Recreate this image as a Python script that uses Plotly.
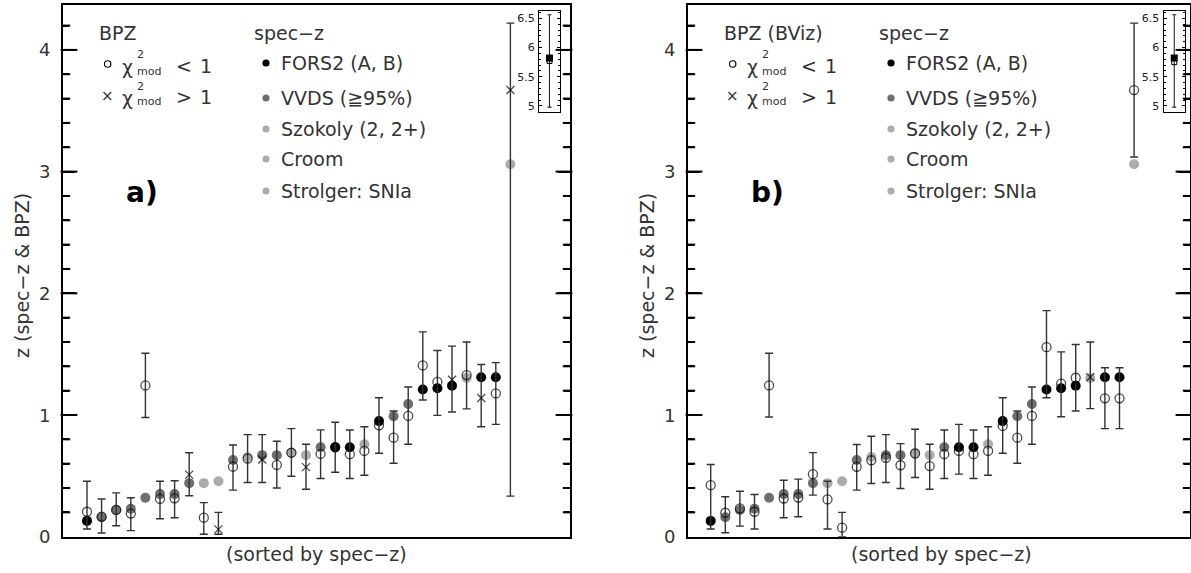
import plotly.graph_objects as go

W, H = 1191, 573

# ---------------- data ----------------
idx = list(range(30))
specz = [0.13, 0.16, 0.22, 0.23, 0.32, 0.35, 0.35, 0.44, 0.44, 0.455,
         0.63, 0.655, 0.67, 0.67, 0.69, 0.67, 0.735, 0.735, 0.735, 0.76,
         0.95, 0.99, 1.09, 1.21, 1.22, 1.24, 1.305, 1.31, 1.31, 3.06]
source = ["FORS2", "VVDS", "VVDS", "VVDS", "VVDS", "VVDS", "VVDS", "VVDS", "Szokoly", "Croom",
          "VVDS", "Szokoly", "VVDS", "VVDS", "Szokoly", "Strolger", "VVDS", "FORS2", "FORS2", "Szokoly",
          "FORS2", "VVDS", "VVDS", "FORS2", "FORS2", "FORS2", "Szokoly", "FORS2", "FORS2", "Szokoly"]

# panel a) BPZ
bpz_a = [0.205, 0.165, 0.22, 0.19, 1.243, 0.31, 0.315, 0.51, 0.156, 0.06,
         0.575, 0.642, 0.634, 0.59, 0.69, 0.572, 0.68, 0.735, 0.678, 0.705,
         0.915, 0.814, 0.992, 1.407, 1.273, 1.29, 1.328, 1.14, 1.177, 3.67]
lo_a = [0.063, 0.03, 0.09, 0.05, 0.98, 0.148, 0.156, 0.336, 0.02, 0.02,
        0.383, 0.445, 0.445, 0.40, 0.497, 0.39, 0.478, 0.53, 0.478, 0.505,
        0.686, 0.604, 0.76, 1.123, 0.997, 1.025, 1.05, 0.904, 0.923, 0.333]
hi_a = [0.456, 0.31, 0.36, 0.32, 1.508, 0.456, 0.46, 0.69, 0.28, 0.2,
        0.754, 0.839, 0.839, 0.784, 0.888, 0.76, 0.878, 0.94, 0.877, 0.904,
        1.142, 1.033, 1.23, 1.683, 1.53, 1.566, 1.60, 1.415, 1.43, 4.22]
chi_gt1_a = [0, 0, 0, 0, 0, 0, 0, 1, 0, 1,
             0, 0, 1, 0, 0, 1, 0, 0, 0, 0,
             0, 0, 0, 0, 0, 1, 0, 1, 0, 1]

# panel b) BPZ (BViz)
bpz_b = [0.423, 0.197, 0.232, 0.205, 1.243, 0.314, 0.322, 0.514, 0.306, 0.074,
         0.574, 0.628, 0.648, 0.587, 0.683, 0.58, 0.678, 0.705, 0.678, 0.705,
         0.91, 0.814, 0.992, 1.557, 1.257, 1.306, 1.311, 1.137, 1.137, 3.67]
lo_b = [0.063, 0.033, 0.087, 0.063, 0.984, 0.156, 0.164, 0.342, 0.063, 0.0,
        0.383, 0.437, 0.445, 0.396, 0.486, 0.39, 0.478, 0.514, 0.478, 0.505,
        0.686, 0.604, 0.76, 1.142, 0.986, 1.033, 1.052, 0.888, 0.888, 3.12]
hi_b = [0.593, 0.328, 0.374, 0.347, 1.508, 0.464, 0.473, 0.691, 0.456, 0.2,
        0.757, 0.825, 0.839, 0.765, 0.883, 0.76, 0.877, 0.923, 0.877, 0.904,
        1.142, 1.033, 1.23, 1.858, 1.519, 1.579, 1.60, 1.388, 1.388, 4.22]
chi_gt1_b = [0, 0, 0, 0, 0, 0, 0, 0, 0, 0,
             0, 0, 0, 0, 0, 0, 0, 0, 0, 0,
             0, 0, 0, 0, 0, 0, 1, 0, 0, 0]

# high-z object shown in the insets
inset_specz = [5.82]
inset_bpz_a = [5.77]
inset_lo_a = [4.98]
inset_hi_a = [6.56]
inset_bpz_b = [5.75]
inset_lo_b = [4.98]
inset_hi_b = [6.56]

y_ticks = [0, 1, 2, 3, 4]
y_ticktext = ["0", "1", "2", "3", "4"]
y_minor = [0.2, 0.4, 0.6, 0.8, 1.2, 1.4, 1.6, 1.8, 2.2, 2.4, 2.6, 2.8,
           3.2, 3.4, 3.6, 3.8, 4.2]
inset_ticks = [5, 5.5, 6, 6.5]
inset_ticktext = ["5", "5.5", "6", "6.5"]

colors = {"FORS2": "#000000", "VVDS": "#6e6e6e", "Szokoly": "#acacac",
          "Croom": "#acacac", "Strolger": "#acacac"}

FONT = "DejaVu Sans"
TXT = "#333333"

fig = go.Figure()

col_dx = 14.6            # pixels per column
ydom = [1 - 536.7 / H, 1 - 5 / H]
range_a = [-(87 - 63) / col_dx, (570 - 87) / col_dx]
range_b = [-(710.7 - 688) / col_dx, (1190 - 710.7) / col_dx]


def px(x):
    return x / W


def py(y):
    return 1 - y / H


def add_ticks(xa, ya, xr):
    """Inside tick marks on both vertical frame sides, drawn as horizontal-line markers."""
    for vals, length in [(y_ticks[1:], 12), (y_minor, 6)]:
        h = (length / 2) / col_dx
        xs = [xr[0] + h] * len(vals) + [xr[1] - h] * len(vals)
        ys = list(vals) + list(vals)
        fig.add_trace(go.Scatter(
            x=xs, y=ys, mode="markers", xaxis=xa, yaxis=ya,
            marker=dict(symbol="line-ew-open", size=length, color="black",
                        line=dict(color="black", width=2)),
            hoverinfo="skip", cliponaxis=False))


def add_panel(xa, ya, bpz, lo, hi, flags, xr):
    add_ticks(xa, ya, xr)
    fig.add_trace(go.Scatter(
        x=idx, y=specz, mode="markers", xaxis=xa, yaxis=ya,
        marker=dict(size=10, color=[colors[s] for s in source], line=dict(width=0)),
        hoverinfo="skip"))
    fig.add_trace(go.Scatter(
        x=idx, y=bpz, mode="markers", xaxis=xa, yaxis=ya,
        marker=dict(symbol=["x-thin-open" if f else "circle-open" for f in flags],
                    size=[8 if f else 9 for f in flags], color="black",
                    line=dict(color="black", width=1.3)),
        error_y=dict(type="data", symmetric=False,
                     array=[h - b for h, b in zip(hi, bpz)],
                     arrayminus=[b - l for b, l in zip(bpz, lo)],
                     color="#333333", thickness=1.4, width=4),
        hoverinfo="skip"))


def add_inset(xa, ya, bpz, lo, hi):
    fig.add_trace(go.Scatter(
        x=[0], y=bpz, mode="markers", xaxis=xa, yaxis=ya,
        marker=dict(symbol="square-open", size=5, color="black", line=dict(width=1)),
        error_y=dict(type="data", symmetric=False,
                     array=[h - b for h, b in zip(hi, bpz)],
                     arrayminus=[b - l for b, l in zip(bpz, lo)],
                     color="#222222", thickness=1.1, width=2),
        hoverinfo="skip"))
    fig.add_trace(go.Scatter(
        x=[0], y=inset_specz, mode="markers", xaxis=xa, yaxis=ya,
        marker=dict(symbol="square", size=7, color="black"),
        hoverinfo="skip"))


add_panel("x", "y", bpz_a, lo_a, hi_a, chi_gt1_a, range_a)
add_panel("x2", "y2", bpz_b, lo_b, hi_b, chi_gt1_b, range_b)
add_inset("x3", "y3", inset_bpz_a, inset_lo_a, inset_hi_a)
add_inset("x4", "y4", inset_bpz_b, inset_lo_b, inset_hi_b)

main_x = dict(showticklabels=False, ticks="", showline=True, linecolor="black",
              linewidth=1.5, mirror=True, showgrid=False, zeroline=False)
main_y = dict(range=[0, (536.7 - 5) / 121.7], tickvals=y_ticks, ticks="inside",
              ticklen=12, tickwidth=1.5, tickcolor="black",
              minor=dict(ticks="inside", dtick=0.2, tick0=0, ticklen=6,
                         tickwidth=1.5, tickcolor="black"),
              showticklabels=False, showline=True, linecolor="black",
              linewidth=1.5, mirror="ticks", showgrid=False, zeroline=False)
inset_x = dict(range=[-1, 1], showticklabels=False, ticks="", showline=True,
               linecolor="black", linewidth=1.2, mirror=True, showgrid=False, zeroline=False)
inset_y = dict(range=[4.897, 6.625], tickvals=inset_ticks, ticktext=inset_ticktext,
               ticks="inside", ticklen=3, tickwidth=1, tickcolor="black",
               minor=dict(ticks="inside", dtick=0.1, tick0=5,
                          ticklen=2, tickwidth=1, tickcolor="black"),
               showline=True, linecolor="black", linewidth=1.2, mirror="ticks",
               showgrid=False, zeroline=False, ticklabelstandoff=1,
               tickfont=dict(family=FONT, size=11, color="#222222"))

fig.update_layout(
    width=W, height=H, autosize=False,
    margin=dict(l=0, r=0, t=0, b=0),
    paper_bgcolor="white", plot_bgcolor="rgba(0,0,0,0)",
    showlegend=False,
    xaxis=dict(domain=[px(63), px(570)], range=range_a, **main_x),
    yaxis=dict(domain=ydom, anchor="x", **main_y),
    xaxis2=dict(domain=[px(688), px(1190)], anchor="y2", range=range_b, **main_x),
    yaxis2=dict(domain=ydom, anchor="x2", **main_y),
    xaxis3=dict(domain=[px(539), px(560)], anchor="y3", **inset_x),
    yaxis3=dict(domain=[py(112), py(11)], anchor="x3", **inset_y),
    xaxis4=dict(domain=[px(1163.5), px(1185)], anchor="y4", **inset_x),
    yaxis4=dict(domain=[py(112), py(11)], anchor="x4", **inset_y),
)

shapes = []
annotations = []


def text(x, y, s, size=19, anchor="left", bold=False, angle=0):
    annotations.append(dict(
        x=px(x), y=py(y), xref="paper", yref="paper", text=s, showarrow=False,
        xanchor=anchor, yanchor="middle", textangle=angle,
        font=dict(family=FONT, size=size, color="black" if bold else TXT,
                  weight="bold" if bold else "normal")))


def dot(cx, cy, r, fill, line=None):
    shapes.append(dict(type="circle", xref="paper", yref="paper",
                       x0=px(cx - r), x1=px(cx + r), y0=py(cy + r), y1=py(cy - r),
                       fillcolor=fill if fill else "rgba(0,0,0,0)",
                       line=dict(color=line if line else "rgba(0,0,0,0)", width=1.1)))


legend_src = [("FORS2 (A, B)", "FORS2"), ("VVDS (≧95%)", "VVDS"),
              ("Szokoly (2, 2+)", "Szokoly"), ("Croom", "Croom"),
              ("Strolger: SNIa", "Strolger")]
row_y = [63, 98, 129, 159, 191]

panels = [(0, 63, "BPZ", "a)", "y"), (625, 688, "BPZ (BViz)", "b)", "y2")]
for off, xl, head, lab, yref in panels:
    # y tick labels
    for v, t in zip(y_ticks, y_ticktext):
        annotations.append(dict(x=px(xl - 11), y=v, xref="paper", yref=yref, text=t,
                                showarrow=False, xanchor="right", yanchor="middle",
                                font=dict(family=FONT, size=18, color=TXT)))
    text(97 + off, 33, head)
    # chi2 rows
    dot(107.7 + off, 64, 3.2, None, "black")
    text(107.7 + off, 96, "×", size=15, anchor="center")
    for ry, sign in [(66, "<"), (97, ">")]:
        text(120 + off, ry + 1, "χ", size=19)
        text(135 + off, ry - 11, "2", size=11)
        text(135 + off, ry + 5, "mod", size=11)
        text(174 + off, ry, sign, size=19)
        text(198 + off, ry, "1", size=19)
    # spec-z legend
    text(252 + off, 33, "spec−z")
    for (lbl, src), ry in zip(legend_src, row_y):
        dot(266 + off, ry, 3.6, colors[src])
        text(279 + off, ry, lbl)
    text(124 + off, 192, lab, size=28, bold=True)
    # axis titles
    text(316.5 + off, 554, "(sorted by spec−z)", anchor="center")
    text(22 + off, 276, "z (spec−z & BPZ)", anchor="center", angle=-90)

fig.update_layout(shapes=shapes, annotations=annotations)

fig.write_html("out.html", config={"displayModeBar": False},
               post_script="document.body.style.margin='0';")
